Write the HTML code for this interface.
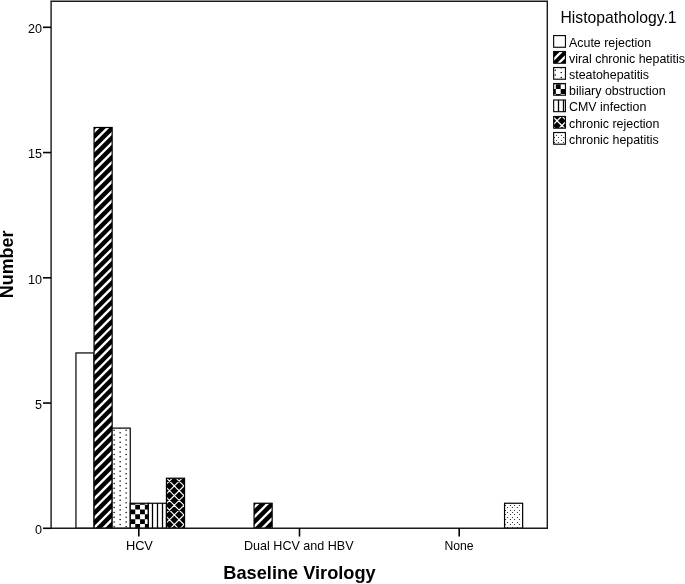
<!DOCTYPE html>
<html><head><meta charset="utf-8"><title>Chart</title>
<style>
html,body{margin:0;padding:0;background:#fff;}
svg{display:block;}
text{font-family:"Liberation Sans",sans-serif;fill:#000;}
</style></head><body>
<svg width="685" height="584" viewBox="0 0 685 584">
<rect width="685" height="584" fill="#fff"/>

<g transform="translate(75.95,352.95)"><rect width="18.10" height="175.35" fill="#fff"/><rect x="0" y="0" width="18.10" height="175.35" fill="none" stroke="#000" stroke-width="1.2"/></g>
<g transform="translate(94.05,127.50)"><clipPath id="cp2"><rect width="18.10" height="400.80"/></clipPath><rect width="18.10" height="400.80" fill="#000"/><path d="M6.30,-2 L-2,6.30 M15.96,-2 L-2,15.96 M25.62,-2 L-2,25.62 M35.28,-2 L-2,35.28 M44.94,-2 L-2,44.94 M54.60,-2 L-2,54.60 M64.26,-2 L-2,64.26 M73.92,-2 L-2,73.92 M83.58,-2 L-2,83.58 M93.24,-2 L-2,93.24 M102.90,-2 L-2,102.90 M112.56,-2 L-2,112.56 M122.22,-2 L-2,122.22 M131.88,-2 L-2,131.88 M141.54,-2 L-2,141.54 M151.20,-2 L-2,151.20 M160.86,-2 L-2,160.86 M170.52,-2 L-2,170.52 M180.18,-2 L-2,180.18 M189.84,-2 L-2,189.84 M199.50,-2 L-2,199.50 M209.16,-2 L-2,209.16 M218.82,-2 L-2,218.82 M228.48,-2 L-2,228.48 M238.14,-2 L-2,238.14 M247.80,-2 L-2,247.80 M257.46,-2 L-2,257.46 M267.12,-2 L-2,267.12 M276.78,-2 L-2,276.78 M286.44,-2 L-2,286.44 M296.10,-2 L-2,296.10 M305.76,-2 L-2,305.76 M315.42,-2 L-2,315.42 M325.08,-2 L-2,325.08 M334.74,-2 L-2,334.74 M344.40,-2 L-2,344.40 M354.06,-2 L-2,354.06 M363.72,-2 L-2,363.72 M373.38,-2 L-2,373.38 M383.04,-2 L-2,383.04 M392.70,-2 L-2,392.70 M402.36,-2 L-2,402.36 M412.02,-2 L-2,412.02 M421.68,-2 L-2,421.68" stroke="#fff" stroke-width="2.4" fill="none" clip-path="url(#cp2)"/><rect x="0" y="0" width="18.10" height="400.80" fill="none" stroke="#000" stroke-width="1.2"/></g>
<g transform="translate(112.15,428.10)"><clipPath id="cp3"><rect width="18.10" height="100.20"/></clipPath><rect width="18.10" height="100.20" fill="#fff"/><g fill="#000" clip-path="url(#cp3)"><circle cx="1.95" cy="2.17" r="0.75"/><circle cx="1.95" cy="7.00" r="0.75"/><circle cx="1.95" cy="11.83" r="0.75"/><circle cx="1.95" cy="16.66" r="0.75"/><circle cx="1.95" cy="21.49" r="0.75"/><circle cx="1.95" cy="26.32" r="0.75"/><circle cx="1.95" cy="31.15" r="0.75"/><circle cx="1.95" cy="35.98" r="0.75"/><circle cx="1.95" cy="40.81" r="0.75"/><circle cx="1.95" cy="45.64" r="0.75"/><circle cx="1.95" cy="50.47" r="0.75"/><circle cx="1.95" cy="55.30" r="0.75"/><circle cx="1.95" cy="60.13" r="0.75"/><circle cx="1.95" cy="64.96" r="0.75"/><circle cx="1.95" cy="69.79" r="0.75"/><circle cx="1.95" cy="74.62" r="0.75"/><circle cx="1.95" cy="79.45" r="0.75"/><circle cx="1.95" cy="84.28" r="0.75"/><circle cx="1.95" cy="89.11" r="0.75"/><circle cx="1.95" cy="93.94" r="0.75"/><circle cx="1.95" cy="98.77" r="0.75"/><circle cx="13.95" cy="2.17" r="0.75"/><circle cx="13.95" cy="7.00" r="0.75"/><circle cx="13.95" cy="11.83" r="0.75"/><circle cx="13.95" cy="16.66" r="0.75"/><circle cx="13.95" cy="21.49" r="0.75"/><circle cx="13.95" cy="26.32" r="0.75"/><circle cx="13.95" cy="31.15" r="0.75"/><circle cx="13.95" cy="35.98" r="0.75"/><circle cx="13.95" cy="40.81" r="0.75"/><circle cx="13.95" cy="45.64" r="0.75"/><circle cx="13.95" cy="50.47" r="0.75"/><circle cx="13.95" cy="55.30" r="0.75"/><circle cx="13.95" cy="60.13" r="0.75"/><circle cx="13.95" cy="64.96" r="0.75"/><circle cx="13.95" cy="69.79" r="0.75"/><circle cx="13.95" cy="74.62" r="0.75"/><circle cx="13.95" cy="79.45" r="0.75"/><circle cx="13.95" cy="84.28" r="0.75"/><circle cx="13.95" cy="89.11" r="0.75"/><circle cx="13.95" cy="93.94" r="0.75"/><circle cx="13.95" cy="98.77" r="0.75"/><circle cx="7.95" cy="-0.25" r="0.75"/><circle cx="7.95" cy="4.58" r="0.75"/><circle cx="7.95" cy="9.41" r="0.75"/><circle cx="7.95" cy="14.25" r="0.75"/><circle cx="7.95" cy="19.07" r="0.75"/><circle cx="7.95" cy="23.91" r="0.75"/><circle cx="7.95" cy="28.73" r="0.75"/><circle cx="7.95" cy="33.56" r="0.75"/><circle cx="7.95" cy="38.40" r="0.75"/><circle cx="7.95" cy="43.23" r="0.75"/><circle cx="7.95" cy="48.05" r="0.75"/><circle cx="7.95" cy="52.88" r="0.75"/><circle cx="7.95" cy="57.72" r="0.75"/><circle cx="7.95" cy="62.55" r="0.75"/><circle cx="7.95" cy="67.38" r="0.75"/><circle cx="7.95" cy="72.20" r="0.75"/><circle cx="7.95" cy="77.03" r="0.75"/><circle cx="7.95" cy="81.86" r="0.75"/><circle cx="7.95" cy="86.69" r="0.75"/><circle cx="7.95" cy="91.52" r="0.75"/><circle cx="7.95" cy="96.35" r="0.75"/></g><rect x="0" y="0" width="18.10" height="100.20" fill="none" stroke="#000" stroke-width="1.2"/></g>
<g transform="translate(130.25,503.25)"><clipPath id="cp4"><rect width="18.10" height="25.05"/></clipPath><rect width="18.10" height="25.05" fill="#fff"/><path d="M0.00,1.40h0.15v4.83h-0.15zM0.00,11.06h0.15v4.83h-0.15zM0.00,20.72h0.15v4.33h-0.15zM0.15,0.00h4.83v1.40h-4.83zM0.15,6.23h4.83v4.83h-4.83zM0.15,15.89h4.83v4.83h-4.83zM4.98,1.40h4.83v4.83h-4.83zM4.98,11.06h4.83v4.83h-4.83zM4.98,20.72h4.83v4.33h-4.83zM9.81,0.00h4.83v1.40h-4.83zM9.81,6.23h4.83v4.83h-4.83zM9.81,15.89h4.83v4.83h-4.83zM14.64,1.40h3.46v4.83h-3.46zM14.64,11.06h3.46v4.83h-3.46zM14.64,20.72h3.46v4.33h-3.46z" fill="#000"/><rect x="0" y="0" width="18.10" height="25.05" fill="none" stroke="#000" stroke-width="1.2"/></g>
<g transform="translate(148.35,503.25)"><clipPath id="cp5"><rect width="18.10" height="25.05"/></clipPath><rect width="18.10" height="25.05" fill="#fff"/><path d="M3.50,0h1.30v25.05h-1.30zM8.50,0h1.30v25.05h-1.30zM13.50,0h1.30v25.05h-1.30z" fill="#000"/><rect x="0" y="0" width="18.10" height="25.05" fill="none" stroke="#000" stroke-width="1.2"/></g>
<g transform="translate(166.45,478.20)"><clipPath id="cp6"><rect width="18.10" height="50.10"/></clipPath><rect width="18.10" height="50.10" fill="#000"/><path d="M7.90,-2 L-2,7.90 M17.56,-2 L-2,17.56 M27.22,-2 L-2,27.22 M36.88,-2 L-2,36.88 M46.54,-2 L-2,46.54 M56.20,-2 L-2,56.20 M65.86,-2 L-2,65.86 M-50.20,-2 L3.90,52.10 M-40.54,-2 L13.56,52.10 M-30.88,-2 L23.22,52.10 M-21.22,-2 L32.88,52.10 M-11.56,-2 L42.54,52.10 M-1.90,-2 L52.20,52.10 M7.76,-2 L61.86,52.10 M17.42,-2 L71.52,52.10" stroke="#fff" stroke-width="1.15" fill="none" clip-path="url(#cp6)"/><rect x="0" y="0" width="18.10" height="50.10" fill="none" stroke="#000" stroke-width="1.2"/></g>
<g transform="translate(254.05,503.25)"><clipPath id="cp7"><rect width="18.10" height="25.05"/></clipPath><rect width="18.10" height="25.05" fill="#000"/><path d="M6.30,-2 L-2,6.30 M15.96,-2 L-2,15.96 M25.62,-2 L-2,25.62 M35.28,-2 L-2,35.28 M44.94,-2 L-2,44.94" stroke="#fff" stroke-width="2.4" fill="none" clip-path="url(#cp7)"/><rect x="0" y="0" width="18.10" height="25.05" fill="none" stroke="#000" stroke-width="1.2"/></g>
<g transform="translate(504.55,503.25)"><clipPath id="cp8"><rect width="18.10" height="25.05"/></clipPath><rect width="18.10" height="25.05" fill="#fff"/><g fill="#1a1a1a" clip-path="url(#cp8)"><circle cx="0.95" cy="2.25" r="0.62"/><circle cx="0.95" cy="7.25" r="0.62"/><circle cx="0.95" cy="11.25" r="0.62"/><circle cx="0.95" cy="16.25" r="0.62"/><circle cx="0.95" cy="21.25" r="0.62"/><circle cx="5.95" cy="2.25" r="0.62"/><circle cx="5.95" cy="7.25" r="0.62"/><circle cx="5.95" cy="11.25" r="0.62"/><circle cx="5.95" cy="16.25" r="0.62"/><circle cx="5.95" cy="21.25" r="0.62"/><circle cx="9.95" cy="2.25" r="0.62"/><circle cx="9.95" cy="7.25" r="0.62"/><circle cx="9.95" cy="11.25" r="0.62"/><circle cx="9.95" cy="16.25" r="0.62"/><circle cx="9.95" cy="21.25" r="0.62"/><circle cx="14.95" cy="2.25" r="0.62"/><circle cx="14.95" cy="7.25" r="0.62"/><circle cx="14.95" cy="11.25" r="0.62"/><circle cx="14.95" cy="16.25" r="0.62"/><circle cx="14.95" cy="21.25" r="0.62"/><circle cx="2.95" cy="4.25" r="0.62"/><circle cx="2.95" cy="9.25" r="0.62"/><circle cx="2.95" cy="14.25" r="0.62"/><circle cx="2.95" cy="19.25" r="0.62"/><circle cx="2.95" cy="24.25" r="0.62"/><circle cx="7.95" cy="4.25" r="0.62"/><circle cx="7.95" cy="9.25" r="0.62"/><circle cx="7.95" cy="14.25" r="0.62"/><circle cx="7.95" cy="19.25" r="0.62"/><circle cx="7.95" cy="24.25" r="0.62"/><circle cx="12.95" cy="4.25" r="0.62"/><circle cx="12.95" cy="9.25" r="0.62"/><circle cx="12.95" cy="14.25" r="0.62"/><circle cx="12.95" cy="19.25" r="0.62"/><circle cx="12.95" cy="24.25" r="0.62"/><circle cx="17.95" cy="4.25" r="0.62"/><circle cx="17.95" cy="9.25" r="0.62"/><circle cx="17.95" cy="14.25" r="0.62"/><circle cx="17.95" cy="19.25" r="0.62"/><circle cx="17.95" cy="24.25" r="0.62"/></g><rect x="0" y="0" width="18.10" height="25.05" fill="none" stroke="#000" stroke-width="1.2"/></g>
<path d="M51.1,1.3 H547.3 V528.3 H51.1 Z" fill="none" stroke="#1a1a1a" stroke-width="1.4"/>
<line x1="43" x2="51.1" y1="528.3" y2="528.3" stroke="#000" stroke-width="1.6"/>
<text transform="translate(42,534.2) scale(0.94,1)" font-size="13.4" text-anchor="end">0</text>
<line x1="43" x2="51.1" y1="403.05" y2="403.05" stroke="#000" stroke-width="1.6"/>
<text transform="translate(42,408.95) scale(0.94,1)" font-size="13.4" text-anchor="end">5</text>
<line x1="43" x2="51.1" y1="277.8" y2="277.8" stroke="#000" stroke-width="1.6"/>
<text transform="translate(42,283.7) scale(0.94,1)" font-size="13.4" text-anchor="end">10</text>
<line x1="43" x2="51.1" y1="152.55" y2="152.55" stroke="#000" stroke-width="1.6"/>
<text transform="translate(42,158.45) scale(0.94,1)" font-size="13.4" text-anchor="end">15</text>
<line x1="43" x2="51.1" y1="27.3" y2="27.3" stroke="#000" stroke-width="1.6"/>
<text transform="translate(42,33.2) scale(0.94,1)" font-size="13.4" text-anchor="end">20</text>
<line x1="138.8" x2="138.8" y1="528.3" y2="536.6" stroke="#000" stroke-width="1.6"/>
<text transform="translate(139.4,549.6) scale(0.956,1)" font-size="13.4" text-anchor="middle">HCV</text>
<line x1="299.5" x2="299.5" y1="528.3" y2="536.6" stroke="#000" stroke-width="1.6"/>
<text transform="translate(298.8,549.6) scale(0.938,1)" font-size="13.4" text-anchor="middle">Dual HCV and HBV</text>
<line x1="459.2" x2="459.2" y1="528.3" y2="536.6" stroke="#000" stroke-width="1.6"/>
<text transform="translate(459,549.6) scale(0.91,1)" font-size="13.4" text-anchor="middle">None</text>
<text x="299.5" y="579.4" font-size="18.2" font-weight="bold" text-anchor="middle">Baseline Virology</text>
<text transform="translate(13.3,264.4) rotate(-90)" font-size="17.9" font-weight="bold" text-anchor="middle">Number</text>
<text transform="translate(560.5,23.3) scale(0.99,1)" font-size="15.9">Histopathology.1</text>
<g transform="translate(553.65,35.57)"><rect width="11.80" height="11.70" fill="#fff"/><rect x="0" y="0" width="11.80" height="11.70" fill="none" stroke="#0a0a0a" stroke-width="1.15"/></g>
<text transform="translate(569.0,46.80) scale(0.928,1)" font-size="13.4">Acute rejection</text>
<g transform="translate(553.65,51.52)"><clipPath id="cp10"><rect width="11.80" height="11.70"/></clipPath><rect width="11.80" height="11.70" fill="#000"/><path d="M1.12,-2 L-2,1.12 M9.92,-2 L-2,9.92 M18.72,-2 L-2,18.72 M27.52,-2 L-2,27.52" stroke="#fff" stroke-width="2.4" fill="none" clip-path="url(#cp10)"/><rect x="0" y="0" width="11.80" height="11.70" fill="none" stroke="#0a0a0a" stroke-width="1.15"/></g>
<text transform="translate(569.0,62.75) scale(0.928,1)" font-size="13.4">viral chronic hepatitis</text>
<g transform="translate(553.65,67.52)"><clipPath id="cp11"><rect width="11.80" height="11.70"/></clipPath><rect width="11.80" height="11.70" fill="#fff"/><g fill="#000" clip-path="url(#cp11)"><circle cx="1.57" cy="2.67" r="0.75"/><circle cx="1.57" cy="7.50" r="0.75"/><circle cx="7.57" cy="0.25" r="0.75"/><circle cx="7.57" cy="5.08" r="0.75"/><circle cx="7.57" cy="9.91" r="0.75"/></g><rect x="0" y="0" width="11.80" height="11.70" fill="none" stroke="#0a0a0a" stroke-width="1.15"/></g>
<text transform="translate(569.0,78.75) scale(0.928,1)" font-size="13.4">steatohepatitis</text>
<g transform="translate(553.65,83.52)"><clipPath id="cp12"><rect width="11.80" height="11.70"/></clipPath><rect width="11.80" height="11.70" fill="#fff"/><path d="M0.00,0.00h2.20v0.72h-2.20zM0.00,5.55h2.20v4.83h-2.20zM2.20,0.72h4.83v4.83h-4.83zM2.20,10.38h4.83v1.32h-4.83zM7.03,0.00h4.77v0.72h-4.77zM7.03,5.55h4.77v4.83h-4.77z" fill="#000"/><rect x="0" y="0" width="11.80" height="11.70" fill="none" stroke="#0a0a0a" stroke-width="1.15"/></g>
<text transform="translate(569.0,94.75) scale(0.928,1)" font-size="13.4">biliary obstruction</text>
<g transform="translate(553.65,99.97)"><clipPath id="cp13"><rect width="11.80" height="11.70"/></clipPath><rect width="11.80" height="11.70" fill="#fff"/><path d="M4.20,0h1.30v11.70h-1.30zM9.20,0h1.30v11.70h-1.30z" fill="#000"/><rect x="0" y="0" width="11.80" height="11.70" fill="none" stroke="#0a0a0a" stroke-width="1.15"/></g>
<text transform="translate(569.0,111.20) scale(0.928,1)" font-size="13.4">CMV infection</text>
<g transform="translate(553.65,116.47)"><clipPath id="cp14"><rect width="11.80" height="11.70"/></clipPath><rect width="11.80" height="11.70" fill="#000"/><path d="M0.08,-2 L-2,0.08 M9.74,-2 L-2,9.74 M19.40,-2 L-2,19.40 M-12.56,-2 L3.14,13.70 M-2.90,-2 L12.80,13.70 M6.76,-2 L22.46,13.70" stroke="#fff" stroke-width="1.3" fill="none" clip-path="url(#cp14)"/><rect x="0" y="0" width="11.80" height="11.70" fill="none" stroke="#0a0a0a" stroke-width="1.15"/></g>
<text transform="translate(569.0,127.70) scale(0.928,1)" font-size="13.4">chronic rejection</text>
<g transform="translate(553.65,132.52)"><clipPath id="cp15"><rect width="11.80" height="11.70"/></clipPath><rect width="11.80" height="11.70" fill="#fff"/><g fill="#1a1a1a" clip-path="url(#cp15)"><circle cx="2.85" cy="2.98" r="0.62"/><circle cx="2.85" cy="7.98" r="0.62"/><circle cx="2.85" cy="11.98" r="0.62"/><circle cx="7.85" cy="2.98" r="0.62"/><circle cx="7.85" cy="7.98" r="0.62"/><circle cx="7.85" cy="11.98" r="0.62"/><circle cx="0.85" cy="-0.02" r="0.62"/><circle cx="0.85" cy="4.98" r="0.62"/><circle cx="0.85" cy="9.98" r="0.62"/><circle cx="4.85" cy="-0.02" r="0.62"/><circle cx="4.85" cy="4.98" r="0.62"/><circle cx="4.85" cy="9.98" r="0.62"/><circle cx="9.85" cy="-0.02" r="0.62"/><circle cx="9.85" cy="4.98" r="0.62"/><circle cx="9.85" cy="9.98" r="0.62"/></g><rect x="0" y="0" width="11.80" height="11.70" fill="none" stroke="#0a0a0a" stroke-width="1.15"/></g>
<text transform="translate(569.0,143.75) scale(0.928,1)" font-size="13.4">chronic hepatitis</text>
</svg></body></html>
